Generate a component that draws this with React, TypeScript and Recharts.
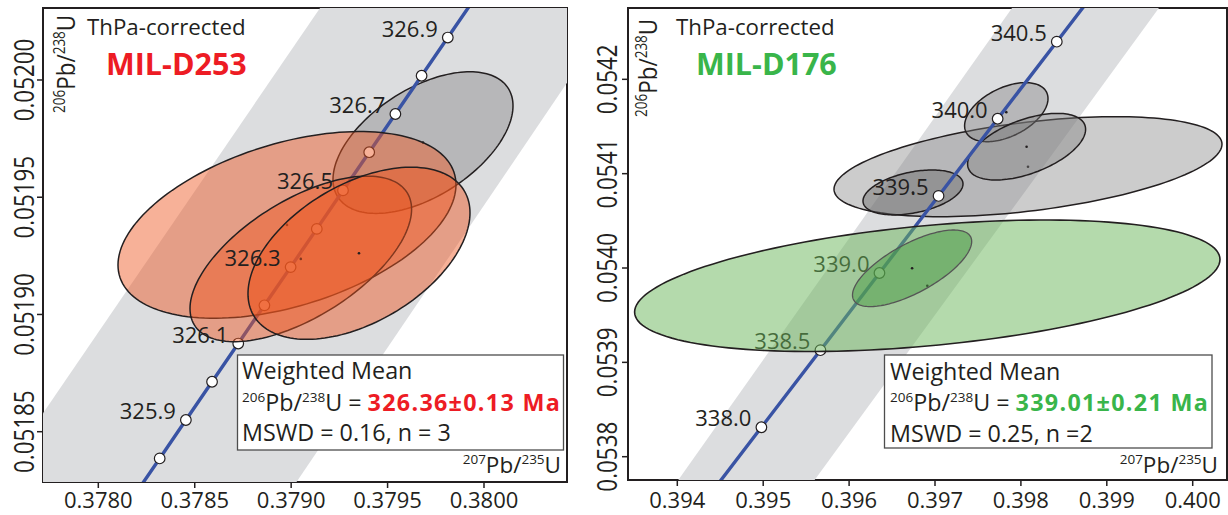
import React from 'react';
import { ScatterChart, Scatter, XAxis, YAxis, ReferenceArea } from 'recharts';

const FONT = "'Open Sans', 'Noto Sans', sans-serif";
const INK = '#231f20';
const BLUE = '#3953a4';
const BAND = '#dcdddf';
const RED = '#ed1c24';
const GREEN = '#39b54a';

// ---------------- Left panel: MIL-D253 ----------------
const L_X_DOMAIN: [number, number] = [0.3777132, 0.3804304];
const L_Y_DOMAIN: [number, number] = [0.05182855, 0.0520307];
const L_X_TICKS = [0.378, 0.3785, 0.379, 0.3795, 0.38];
const L_X_TICK_LABELS = ['0.3780', '0.3785', '0.3790', '0.3795', '0.3800'];
const L_Y_TICKS = [0.05185, 0.0519, 0.05195, 0.052];
const L_Y_TICK_LABELS = ['0.05185', '0.05190', '0.05195', '0.05200'];

const L_AGES = [325.7, 325.8, 325.9, 326.0, 326.1, 326.2, 326.3, 326.4, 326.5, 326.6, 326.7, 326.8, 326.9, 327.0];
const L_CONC_X = [0.3781826, 0.3783183, 0.3784541, 0.3785898, 0.3787256, 0.3788614, 0.3789972, 0.379133, 0.3792688, 0.3794047, 0.3795405, 0.3796764, 0.3798123, 0.3799482];
const L_CONC_Y = [0.0518223, 0.0518386, 0.051855, 0.0518713, 0.0518876, 0.0519039, 0.0519202, 0.0519365, 0.0519529, 0.0519692, 0.0519855, 0.0520018, 0.0520181, 0.0520344];
const L_MARKED = [false, true, true, true, true, true, true, true, true, true, true, true, true, false];
const L_AGE_LABELS = ['', '', '325.9', '', '326.1', '', '326.3', '', '326.5', '', '326.7', '', '326.9', ''];

const L_BAND_X = [0.3774052, 0.3792491, 0.3807918, 0.3789644];
const L_BAND_Y = [0.05182086, 0.05204264, 0.05204264, 0.05182086];

const L_ELL_X = [0.3796837, 0.3789784, 0.37905, 0.3793518];
const L_ELL_SX = [0.0004667, 0.0008763, 0.0005745, 0.0005756];
const L_ELL_Y = [0.0519733, 0.0519382, 0.0519237, 0.0519261];
const L_ELL_SY = [0.0000302, 0.0000398, 0.0000353, 0.0000367];
const L_ELL_RHO = [0.52, 0.43, 0.6, 0.47];
const L_ELL_OVER = [false, true, true, true];

// ---------------- Right panel: MIL-D176 ----------------
const R_X_DOMAIN: [number, number] = [0.393426, 0.4003993];
const R_Y_DOMAIN: [number, number] = [0.0537753, 0.0542756];
const R_X_TICKS = [0.394, 0.395, 0.396, 0.397, 0.398, 0.399, 0.4];
const R_X_TICK_LABELS = ['0.394', '0.395', '0.396', '0.397', '0.398', '0.399', '0.400'];
const R_Y_TICKS = [0.0538, 0.0539, 0.054, 0.0541, 0.0542];
const R_Y_TICK_LABELS = ['0.0538', '0.0539', '0.0540', '0.0541', '0.0542'];

const R_AGES = [337.5, 338.0, 338.5, 339.0, 339.5, 340.0, 340.5, 341.0];
const R_CONC_X = [0.3942922, 0.394979, 0.3956661, 0.3963535, 0.3970413, 0.3977294, 0.3984178, 0.3991066];
const R_CONC_Y = [0.0537494, 0.0538312, 0.0539129, 0.0539947, 0.0540764, 0.0541582, 0.0542399, 0.0543217];
const R_MARKED = [false, true, true, true, true, true, true, false];
const R_AGE_LABELS = ['', '338.0', '338.5', '339.0', '339.5', '340.0', '340.5', ''];

const R_BAND_X = [0.3934411, 0.3982095, 0.3999292, 0.3950104];
const R_BAND_Y = [0.0537019, 0.0543159, 0.0543159, 0.0537019];

const R_ELL_X = [0.3980826, 0.3967438, 0.39783, 0.3980663, 0.3969103, 0.3967333];
const R_ELL_SX = [0.0022584, 0.000582, 0.0004854, 0.0006868, 0.0034074, 0.0006938];
const R_ELL_Y = [0.0541074, 0.0540801, 0.0541652, 0.0541286, 0.0539812, 0.0539997];
const R_ELL_SY = [0.000053, 0.0000238, 0.0000313, 0.0000353, 0.0000697, 0.0000406];
const R_ELL_RHO = [0.45, 0.38, 0.46, 0.52, 0.4, 0.7];
const R_ELL_OVER = [false, false, false, false, true, true];

type EllStyle = { fill: string; fillOpacity: number; stroke: string; strokeWidth: number };
const GREY_E: EllStyle = { fill: '#808080', fillOpacity: 0.4, stroke: INK, strokeWidth: 1.5 };
const GREY_DARK_E: EllStyle = { fill: '#646464', fillOpacity: 0.42, stroke: INK, strokeWidth: 1.5 };
const ORANGE_E: EllStyle = { fill: '#ee561f', fillOpacity: 0.46, stroke: INK, strokeWidth: 1.5 };
const GREEN_E: EllStyle = { fill: '#69b559', fillOpacity: 0.5, stroke: INK, strokeWidth: 1.6 };
const GREEN_DARK_E: EllStyle = { fill: '#4a9c44', fillOpacity: 0.5, stroke: '#555555', strokeWidth: 1.3 };

const L_ELL_STYLE = [GREY_E, ORANGE_E, ORANGE_E, ORANGE_E];
const R_ELL_STYLE = [GREY_E, GREY_DARK_E, GREY_E, GREY_E, GREEN_E, GREEN_DARK_E];

const pt = (p: any) => ({ x: p.x !== undefined ? p.x : p.cx, y: p.y !== undefined ? p.y : p.cy });

const makeEllipseLine = (st: EllStyle) => (props: any) => {
  const pts = (props.points || []).map(pt);
  if (pts.length < 3) return <g />;
  const [c, a, b] = pts;
  const ux = a.x - c.x;
  const uy = a.y - c.y;
  const vx = b.x - c.x;
  const vy = b.y - c.y;
  const N = 160;
  let d = '';
  for (let i = 0; i < N; i++) {
    const t = (2 * Math.PI * i) / N;
    const px = c.x + ux * Math.cos(t) + vx * Math.sin(t);
    const py = c.y + uy * Math.cos(t) + vy * Math.sin(t);
    d += (i === 0 ? 'M' : 'L') + px.toFixed(2) + ',' + py.toFixed(2);
  }
  return (
    <path d={d + 'Z'} fill={st.fill} fillOpacity={st.fillOpacity} stroke={st.stroke} strokeWidth={st.strokeWidth} />
  );
};

const bandLine = (props: any) => {
  const pts = (props.points || []).map(pt);
  if (!pts.length) return <g />;
  const d = pts.map((p: any, i: number) => (i ? 'L' : 'M') + p.x.toFixed(2) + ',' + p.y.toFixed(2)).join('') + 'Z';
  return <path d={d} fill={BAND} stroke="none" />;
};

const centerDot = (p: any) => {
  const isDot = (p.payload && p.payload.dot) || p.dot;
  return isDot ? <circle cx={p.cx} cy={p.cy} r={1.3} fill={INK} /> : <g />;
};

const emptyShape = () => <g />;

const markerShape = (p: any) => (
  <circle cx={p.cx} cy={p.cy} r={5.3} fill="#ffffff" stroke={INK} strokeWidth={1.2} />
);

const labelShape = (p: any) => {
  const label = (p.payload && p.payload.label) || p.label;
  return (
    <text x={p.cx - 10} y={p.cy - 1} textAnchor="end" fontSize={22} fontFamily={FONT} fill={INK}>
      {label}
    </text>
  );
};

const makeXTick = (ticks: number[], labels: string[], baseline: number) => (props: any) => {
  const { x, payload } = props;
  const i = ticks.findIndex((t) => Math.abs(t - payload.value) < 1e-9);
  return (
    <text x={x} y={baseline} textAnchor="middle" fontSize={22} fontFamily={FONT} fill={INK}>
      {labels[i]}
    </text>
  );
};

const makeYTick = (ticks: number[], labels: string[], bx: number) => (props: any) => {
  const { y, payload } = props;
  const i = ticks.findIndex((t) => Math.abs(t - payload.value) < 1e-12);
  return (
    <g transform={`translate(${bx},${y}) scale(1.2,1) rotate(-90)`}>
      <text x={0} y={0} textAnchor="middle" fontSize={22.4} fontFamily={FONT} fill={INK}>
        {labels[i]}
      </text>
    </g>
  );
};

interface PanelProps {
  width: number;
  height: number;
  yAxisWidth: number;
  xAxisHeight: number;
  marginRight: number;
  xDomain: [number, number];
  yDomain: [number, number];
  xTicks: number[];
  xTickLabels: string[];
  yTicks: number[];
  yTickLabels: string[];
  xTickBaseline: number;
  yTickBaselineX: number;
  ages: number[];
  concX: number[];
  concY: number[];
  marked: boolean[];
  ageLabels: string[];
  bandX: number[];
  bandY: number[];
  ellX: number[];
  ellSX: number[];
  ellY: number[];
  ellSY: number[];
  ellRho: number[];
  ellOver: boolean[];
  ellStyle: EllStyle[];
  labelsOnTop: boolean;
}

function ConcordiaPanel(P: PanelProps) {
  const band = P.bandX.map((x, i) => ({ x, y: P.bandY[i] }));
  const curve = P.ages.map((a, i) => ({ age: a, x: P.concX[i], y: P.concY[i] }));
  const markers = curve.filter((_, i) => P.marked[i]);
  const labels = curve
    .map((c, i) => ({ ...c, label: P.ageLabels[i] }))
    .filter((c) => c.label !== '');
  const ellipses = P.ellX.map((cx, i) => {
    const cy = P.ellY[i];
    const sx = P.ellSX[i];
    const sy = P.ellSY[i];
    const r = P.ellRho[i];
    return {
      i,
      data: [
        { x: cx, y: cy, dot: true },
        { x: cx + sx, y: cy + r * sy },
        { x: cx, y: cy + sy * Math.sqrt(1 - r * r) },
      ],
    };
  });
  const renderEll = (e: any) => (
    <Scatter
      key={'ell' + e.i}
      data={e.data}
      isAnimationActive={false}
      line={makeEllipseLine(P.ellStyle[e.i])}
      lineType="joint"
      shape={centerDot}
    />
  );
  const under = ellipses.filter((e) => !P.ellOver[e.i]);
  const over = ellipses.filter((e) => P.ellOver[e.i]);
  const labelSeries = (
    <Scatter key="labels" data={labels} isAnimationActive={false} shape={labelShape} />
  );
  return (
    <ScatterChart
      width={P.width}
      height={P.height}
      margin={{ top: 8, right: P.marginRight, bottom: 0, left: 0 }}
    >
      <XAxis
        type="number"
        dataKey="x"
        domain={P.xDomain}
        allowDataOverflow
        ticks={P.xTicks}
        interval={0}
        height={P.xAxisHeight}
        tickSize={6}
        axisLine={{ stroke: INK, strokeWidth: 2 }}
        tickLine={{ stroke: INK, strokeWidth: 1.5 }}
        tick={makeXTick(P.xTicks, P.xTickLabels, P.xTickBaseline)}
      />
      <YAxis
        type="number"
        dataKey="y"
        domain={P.yDomain}
        allowDataOverflow
        ticks={P.yTicks}
        interval={0}
        width={P.yAxisWidth}
        tickSize={6}
        axisLine={{ stroke: INK, strokeWidth: 2 }}
        tickLine={{ stroke: INK, strokeWidth: 1.5 }}
        tick={makeYTick(P.yTicks, P.yTickLabels, P.yTickBaselineX)}
      />
      <Scatter data={band} isAnimationActive={false} line={bandLine} lineType="joint" shape={emptyShape} />
      {under.map(renderEll)}
      <Scatter
        data={curve}
        isAnimationActive={false}
        line={{ stroke: BLUE, strokeWidth: 3.4 }}
        lineType="joint"
        shape={emptyShape}
      />
      <Scatter data={markers} isAnimationActive={false} shape={markerShape} />
      {!P.labelsOnTop && labelSeries}
      {over.map(renderEll)}
      {P.labelsOnTop && labelSeries}
      <ReferenceArea
        x1={P.xDomain[0]}
        x2={P.xDomain[1]}
        y1={P.yDomain[0]}
        y2={P.yDomain[1]}
        fill="none"
        fillOpacity={0}
        stroke={INK}
        strokeWidth={2}
        ifOverflow="visible"
      />
    </ScatterChart>
  );
}

const SUP = 13.5;

function RatioLabel({ a, b, el, sup }: { a: string; b: string; el: string; sup?: number }) {
  const s = sup || SUP;
  return (
    <>
      <tspan fontSize={s} dy={-9}>{a}</tspan>
      <tspan dy={9}>Pb/</tspan>
      <tspan fontSize={s} dy={-9}>{b}</tspan>
      <tspan dy={9}>{el}</tspan>
    </>
  );
}

function Overlay() {
  const t = { fontFamily: FONT, fill: INK } as const;
  return (
    <svg
      width={1228}
      height={515}
      style={{ position: 'absolute', left: 0, top: 0, pointerEvents: 'none' }}
    >
      {/* left panel texts */}
      <text x={87} y={35} fontSize={22.3} {...t}>ThPa-corrected</text>
      <text x={106} y={75} fontSize={30.5} fontWeight={700} fontFamily={FONT} fill={RED}>MIL-D253</text>
      <g transform="translate(75,113) scale(1.15,1) rotate(-90)">
        <text x={0} y={0} fontSize={22.5} {...t}>
          <RatioLabel a="206" b="238" el="U" />
        </text>
      </g>
      <text x={561} y={473} fontSize={22.5} textAnchor="end" {...t}>
        <RatioLabel a="207" b="235" el="U" />
      </text>
      <rect x={237.5} y={355} width={326} height={95} fill="#ffffff" stroke="#4d4d4d" strokeWidth={1.3} />
      <text x={242} y={379} fontSize={23.3} {...t}>Weighted Mean</text>
      <text x={242} y={411} fontSize={23.3} {...t}>
        <RatioLabel a="206" b="238" el="U = " />
        <tspan fontWeight={700} fill={RED} letterSpacing={1.3}>326.36±0.13 Ma</tspan>
      </text>
      <text x={242} y={441} fontSize={23.3} {...t}>MSWD = 0.16, n = 3</text>

      {/* right panel texts */}
      <text x={676} y={35} fontSize={22.3} {...t}>ThPa-corrected</text>
      <text x={696} y={75} fontSize={30.5} fontWeight={700} fontFamily={FONT} fill={GREEN}>MIL-D176</text>
      <g transform="translate(657,117) scale(1.15,1) rotate(-90)">
        <text x={0} y={0} fontSize={22.5} {...t}>
          <RatioLabel a="206" b="238" el="U" />
        </text>
      </g>
      <text x={1218} y={473} fontSize={22.5} textAnchor="end" {...t}>
        <RatioLabel a="207" b="235" el="U" />
      </text>
      <rect x={884.5} y={355} width={327.5} height={93} fill="#ffffff" stroke="#4d4d4d" strokeWidth={1.3} />
      <text x={890} y={380} fontSize={23.3} {...t}>Weighted Mean</text>
      <text x={890} y={411} fontSize={23.3} {...t}>
        <RatioLabel a="206" b="238" el="U = " />
        <tspan fontWeight={700} fill={GREEN} letterSpacing={1.3}>339.01±0.21 Ma</tspan>
      </text>
      <text x={890} y={441.5} fontSize={23.3} {...t}>MSWD = 0.25, n =2</text>
    </svg>
  );
}

export default function App() {
  return (
    <div style={{ position: 'absolute', left: 0, top: 0, width: 1228, height: 515, background: '#ffffff' }}>
      <div style={{ position: 'absolute', left: 0, top: 0 }}>
        <ConcordiaPanel
          width={600}
          height={515}
          yAxisWidth={43}
          xAxisHeight={33}
          marginRight={33}
          xDomain={L_X_DOMAIN}
          yDomain={L_Y_DOMAIN}
          xTicks={L_X_TICKS}
          xTickLabels={L_X_TICK_LABELS}
          yTicks={L_Y_TICKS}
          yTickLabels={L_Y_TICK_LABELS}
          xTickBaseline={507.5}
          yTickBaselineX={33.5}
          ages={L_AGES}
          concX={L_CONC_X}
          concY={L_CONC_Y}
          marked={L_MARKED}
          ageLabels={L_AGE_LABELS}
          bandX={L_BAND_X}
          bandY={L_BAND_Y}
          ellX={L_ELL_X}
          ellSX={L_ELL_SX}
          ellY={L_ELL_Y}
          ellSY={L_ELL_SY}
          ellRho={L_ELL_RHO}
          ellOver={L_ELL_OVER}
          ellStyle={L_ELL_STYLE}
          labelsOnTop={true}
        />
      </div>
      <div style={{ position: 'absolute', left: 585, top: 0 }}>
        <ConcordiaPanel
          width={643}
          height={515}
          yAxisWidth={43}
          xAxisHeight={35}
          marginRight={1}
          xDomain={R_X_DOMAIN}
          yDomain={R_Y_DOMAIN}
          xTicks={R_X_TICKS}
          xTickLabels={R_X_TICK_LABELS}
          yTicks={R_Y_TICKS}
          yTickLabels={R_Y_TICK_LABELS}
          xTickBaseline={507.5}
          yTickBaselineX={31.7}
          ages={R_AGES}
          concX={R_CONC_X}
          concY={R_CONC_Y}
          marked={R_MARKED}
          ageLabels={R_AGE_LABELS}
          bandX={R_BAND_X}
          bandY={R_BAND_Y}
          ellX={R_ELL_X}
          ellSX={R_ELL_SX}
          ellY={R_ELL_Y}
          ellSY={R_ELL_SY}
          ellRho={R_ELL_RHO}
          ellOver={R_ELL_OVER}
          ellStyle={R_ELL_STYLE}
          labelsOnTop={false}
        />
      </div>
      <Overlay />
    </div>
  );
}
